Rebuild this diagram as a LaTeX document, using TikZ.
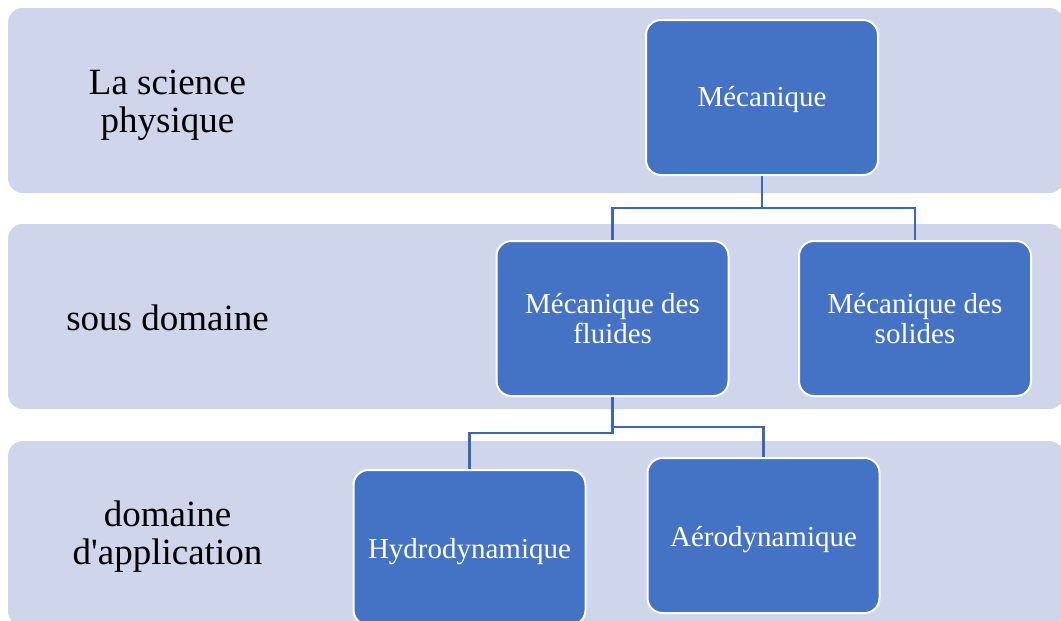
\documentclass[tikz,border=0pt]{standalone}
\usepackage{fontspec}
\setmainfont{Liberation Serif}
\definecolor{bandcol}{RGB}{207,213,234}
\definecolor{boxcol}{RGB}{68,114,196}
\definecolor{linkcol}{RGB}{64,102,176}
\newcommand{\txtdown}[2]{\raisebox{-#1}[\height][\depth]{#2}}
\tikzset{
  band/.style={fill=bandcol, draw=none, rounded corners=15pt},
  bandlabel/.style={font=\fontsize{37}{38}\selectfont, align=center, text=black},
  orgbox/.style={rectangle, rounded corners=15pt, fill=boxcol, draw=white, line width=2pt,
    minimum width=232pt, minimum height=155pt, align=center, text=white,
    font=\fontsize{29}{30}\selectfont, inner sep=0pt},
  link/.style={draw=linkcol, line width=2.6pt}
}
\begin{document}
\begin{tikzpicture}[x=1pt, y=-1pt]
\useasboundingbox (0,0) rectangle (1061,621);
\clip (0,0) rectangle (1061,621);
\fill[white] (0,0) rectangle (1061,621);
% bands
\path[band] (8,8) rectangle (1064,193);
\path[band] (8,224) rectangle (1064,409);
\path[band] (8,441) rectangle (1064,626);
% band labels
\node[bandlabel] (lab1) at (167.5,105) {La science\\physique};
\node[bandlabel] (lab2) at (167.5,318) {sous domaine};
\node[bandlabel] (lab3) at (167.5,537) {domaine\\d\textquotesingle application};
% boxes
\node[orgbox] (mec) at (762,97.5) {\txtdown{2pt}{Mécanique}};
\node[orgbox] (flu) at (612.5,318.5) {Mécanique des\\fluides};
\node[orgbox] (sol) at (915,318.5) {Mécanique des\\solides};
\node[orgbox] (hyd) at (469.5,547.5) {\txtdown{4pt}{Hydrodynamique}};
\node[orgbox] (aer) at (763.5,535.5) {\txtdown{4pt}{Aérodynamique}};
% connectors
\coordinate (j1) at (762,208);
\coordinate (j2) at (612.5,433);
\coordinate (j3) at (612.5,427);
\draw[link] (mec.south) -- (j1) -| (flu.north);
\draw[link] (j1) -| (sol.north);
\draw[link] (flu.south) -- (j2) -| (hyd.north);
\draw[link] (j3) -| (aer.north);
\end{tikzpicture}
\end{document}
